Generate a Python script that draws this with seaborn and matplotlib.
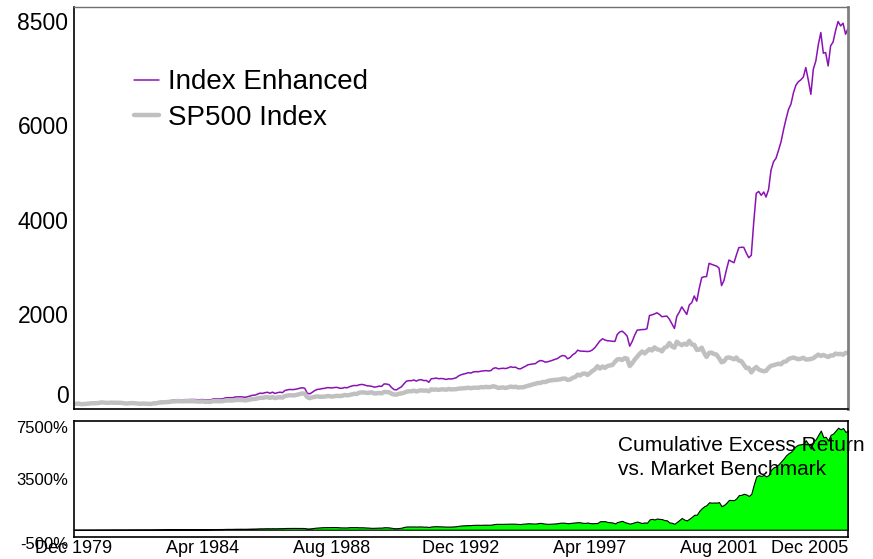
import matplotlib
matplotlib.use("Agg")
import matplotlib.pyplot as plt
import matplotlib.transforms as mtransforms
import pandas as pd
import seaborn as sns

# monthly values, Dec 1979 .. Dec 2005
sp500 = [
    108,
    114, 114, 102, 106, 111, 114, 122, 122, 125, 127, 141, 136,  # 1980
    130, 131, 136, 133, 133, 131, 131, 123, 116, 122, 126, 123,  # 1981
    120, 113, 112, 116, 112, 110, 107, 120, 120, 134, 139, 141,  # 1982
    145, 148, 153, 164, 162, 168, 163, 164, 166, 164, 166, 165,  # 1983
    163, 157, 159, 160, 151, 153, 151, 167, 166, 166, 164, 167,  # 1984
    180, 181, 181, 180, 190, 192, 191, 189, 182, 190, 202, 211,  # 1985
    212, 227, 239, 236, 247, 251, 236, 253, 231, 244, 249, 242,  # 1986
    274, 284, 292, 288, 290, 304, 319, 330, 322, 252, 230, 247,  # 1987
    257, 268, 259, 261, 262, 274, 272, 262, 272, 279, 274, 278,  # 1988
    297, 289, 295, 310, 321, 318, 346, 351, 349, 340, 346, 353,  # 1989
    329, 332, 340, 331, 361, 358, 356, 323, 306, 304, 322, 330,  # 1990
    344, 367, 375, 375, 390, 371, 388, 395, 388, 392, 375, 417,  # 1991
    409, 413, 404, 415, 415, 408, 424, 414, 418, 419, 431, 436,  # 1992
    439, 443, 452, 440, 450, 451, 448, 464, 459, 468, 462, 466,  # 1993
    482, 467, 446, 451, 457, 444, 458, 475, 463, 472, 454, 459,  # 1994
    461, 477, 491, 504, 522, 534, 551, 551, 573, 570, 593, 604,  # 1995
    611, 615, 620, 628, 642, 644, 614, 626, 660, 677, 727, 711,  # 1996
    747, 751, 719, 761, 806, 841, 906, 854, 900, 869, 907, 922,  # 1997
    931, 997, 1047, 1056, 1036, 1077, 1065, 909, 966, 1044, 1105, 1168,  # 1998
    1216, 1176, 1222, 1268, 1237, 1304, 1262, 1254, 1219, 1295, 1319, 1396,  # 1999
    1324, 1298, 1424, 1379, 1350, 1382, 1359, 1442, 1365, 1358, 1249, 1254,  # 2000
    1298, 1178, 1102, 1187, 1193, 1163, 1151, 1077, 989, 1007, 1082, 1091,  # 2001
    1074, 1051, 1090, 1023, 1014, 940, 866, 870, 774, 841, 889, 836,  # 2002
    813, 799, 806, 871, 915, 926, 941, 958, 946, 998, 1005, 1056,  # 2003
    1075, 1088, 1070, 1052, 1065, 1084, 1047, 1049, 1059, 1074, 1115, 1151,  # 2004
    1122, 1143, 1122, 1099, 1132, 1132, 1172, 1159, 1167, 1147, 1187, 1186,  # 2005
]

enhanced = [
    108,
    114, 114, 102, 106, 112, 115, 123, 124, 127, 130, 144, 140,  # 1980
    135, 136, 143, 140, 140, 139, 139, 130, 124, 131, 136, 133,  # 1981
    131, 123, 123, 128, 124, 122, 120, 134, 136, 151, 158, 161,  # 1982
    167, 172, 177, 192, 191, 198, 194, 195, 199, 198, 201, 201,  # 1983
    200, 195, 197, 200, 190, 193, 192, 212, 212, 214, 212, 217,  # 1984
    236, 239, 239, 239, 255, 257, 258, 255, 248, 260, 277, 291,  # 1985
    295, 316, 335, 330, 346, 354, 333, 357, 328, 346, 356, 346,  # 1986
    392, 405, 414, 410, 415, 425, 440, 450, 438, 335, 320, 352,  # 1987
    390, 415, 418, 432, 437, 452, 450, 445, 455, 458, 440, 438,  # 1988
    455, 448, 470, 488, 498, 495, 512, 520, 510, 492, 488, 480,  # 1989
    462, 470, 485, 478, 530, 528, 515, 455, 410, 405, 440, 470,  # 1990
    535, 590, 600, 598, 615, 590, 615, 620, 600, 605, 565, 640,  # 1991
    645, 655, 640, 645, 640, 625, 640, 635, 645, 660, 700, 725,  # 1992
    740, 752, 770, 760, 785, 790, 788, 800, 805, 812, 806, 812,  # 1993
    860, 872, 850, 855, 862, 855, 870, 893, 880, 885, 852, 850,  # 1994
    880, 905, 935, 945, 952, 960, 1000, 1026, 1015, 990, 1000, 1015,  # 1995
    1033, 1050, 1070, 1110, 1132, 1120, 1062, 1090, 1147, 1180, 1244, 1225,  # 1996
    1223, 1220, 1215, 1223, 1250, 1300, 1370, 1440, 1485, 1460, 1443, 1440,  # 1997
    1432, 1430, 1576, 1630, 1646, 1600, 1541, 1329, 1430, 1560, 1668, 1675,  # 1998
    1680, 1682, 1697, 1978, 1990, 2010, 2035, 2000, 1951, 1960, 1964, 1900,  # 1999
    1800, 1703, 1960, 2050, 2160, 2080, 2000, 2200, 2250, 2390, 2281, 2550,  # 2000
    2780, 2797, 2800, 3080, 3060, 3040, 3022, 2980, 2610, 2720, 2950, 3150,  # 2001
    3120, 3093, 3250, 3411, 3420, 3418, 3300, 3199, 3250, 3950, 4560, 4600,  # 2002
    4518, 4588, 4482, 4640, 5050, 5230, 5300, 5470, 5650, 5900, 6130, 6330,  # 2003
    6450, 6691, 6845, 6920, 6960, 7021, 7220, 6950, 6655, 7184, 7360, 7700,  # 2004
    7960, 7523, 7537, 7254, 7677, 7762, 8000, 8193, 8100, 8157, 7924, 8050,  # 2005
]

tick_dates = ["1979-12-01", "1984-04-01", "1988-08-01", "1992-12-01",
              "1997-04-01", "2001-08-01", "2005-12-01"]
tick_labels = ["Dec 1979", "Apr 1984", "Aug 1988", "Dec 1992",
               "Apr 1997", "Aug 2001", "Dec 2005"]
top_yticks = [0, 2000, 4000, 6000, 8500]
bottom_yticks = [-500, 3500, 7500]

PURPLE = "#8a12b4"
GRAY = "#c0c0c0"
GREEN = "#00ff00"

sns.set_style("white")
plt.rcParams["font.family"] = ["Liberation Sans", "DejaVu Sans"]
plt.rcParams["text.color"] = "black"
plt.rcParams["xtick.color"] = "black"
plt.rcParams["ytick.color"] = "black"

dates = pd.date_range("1979-12-01", "2005-12-01", freq="MS")
df = pd.DataFrame({"date": dates, "enhanced": enhanced, "sp500": sp500})
# excess over the benchmark, growth of 100 -> percentage points
df["excess"] = df["enhanced"] - df["sp500"]
ticks = pd.to_datetime(tick_dates)

fig = plt.figure(figsize=(8.73, 5.59), dpi=100)
ax = fig.add_axes([0.0848, 0.2683, 0.8866, 0.7192])
ax2 = fig.add_axes([0.0848, 0.0394, 0.8866, 0.2075])

sns.lineplot(data=df, x="date", y="enhanced", ax=ax, color=PURPLE,
             lw=1.1, label="Index Enhanced")
sns.lineplot(data=df, x="date", y="sp500", ax=ax, color=GRAY,
             lw=3.2, label="SP500 Index")
ax2.fill_between(df["date"], 0, df["excess"], facecolor=GREEN,
                 edgecolor="black", lw=0.8)

for a in (ax, ax2):
    a.set_xlim(dates[0], dates[-1])
    a.set_xticks(ticks)
    a.set_xlabel("")
    a.set_ylabel("")
    a.tick_params(axis="x", direction="in", length=4, width=1, colors="black")
    a.tick_params(axis="y", direction="out", length=3, width=1, colors="black", pad=1)

ax.set_ylim(0, 8500)
ax.set_yticks(top_yticks)
ax.set_yticklabels([str(v) for v in top_yticks], fontsize=16.5)
ax.set_xticklabels([])

ax2.set_ylim(-500, 7500)
ax2.set_yticks(bottom_yticks)
ax2.set_yticklabels([f"{v}%" for v in bottom_yticks], fontsize=12)
ax2.set_xticklabels(tick_labels, fontsize=13)
ax2.tick_params(axis="x", pad=2.5)


def shift(label, dy):
    label.set_transform(label.get_transform() +
                        mtransforms.ScaledTranslation(0, dy / 100, fig.dpi_scale_trans))


ylabs = ax.get_yticklabels()
ylabs[-1].set_va("top")
shift(ylabs[-1], -5)
ylabs[0].set_va("bottom")
shift(ylabs[0], 1)
ylabs2 = ax2.get_yticklabels()
ylabs2[-1].set_va("top")
ylabs2[0].set_va("top")
xlabs2 = ax2.get_xticklabels()
xlabs2[-1].set_ha("right")

for s in ("left", "bottom"):
    ax.spines[s].set_color("black")
    ax.spines[s].set_linewidth(1.2)
ax.spines["top"].set_color("#707070")
ax.spines["top"].set_linewidth(1)
ax.spines["right"].set_color("#808080")
ax.spines["right"].set_linewidth(2)
for s in ax2.spines.values():
    s.set_color("black")
    s.set_linewidth(1.2)

ax.legend(loc="upper left", bbox_to_anchor=(0.078, 0.845), frameon=False,
          fontsize=20, handlelength=0.9, handletextpad=0.3, labelspacing=0.35,
          borderpad=0, borderaxespad=0)

ax2.text(0.7025, 0.87, "Cumulative Excess Return\nvs. Market Benchmark",
         transform=ax2.transAxes, fontsize=15, va="top", ha="left",
         linespacing=1.3, clip_on=False)

fig.savefig("out.png", dpi=100)
